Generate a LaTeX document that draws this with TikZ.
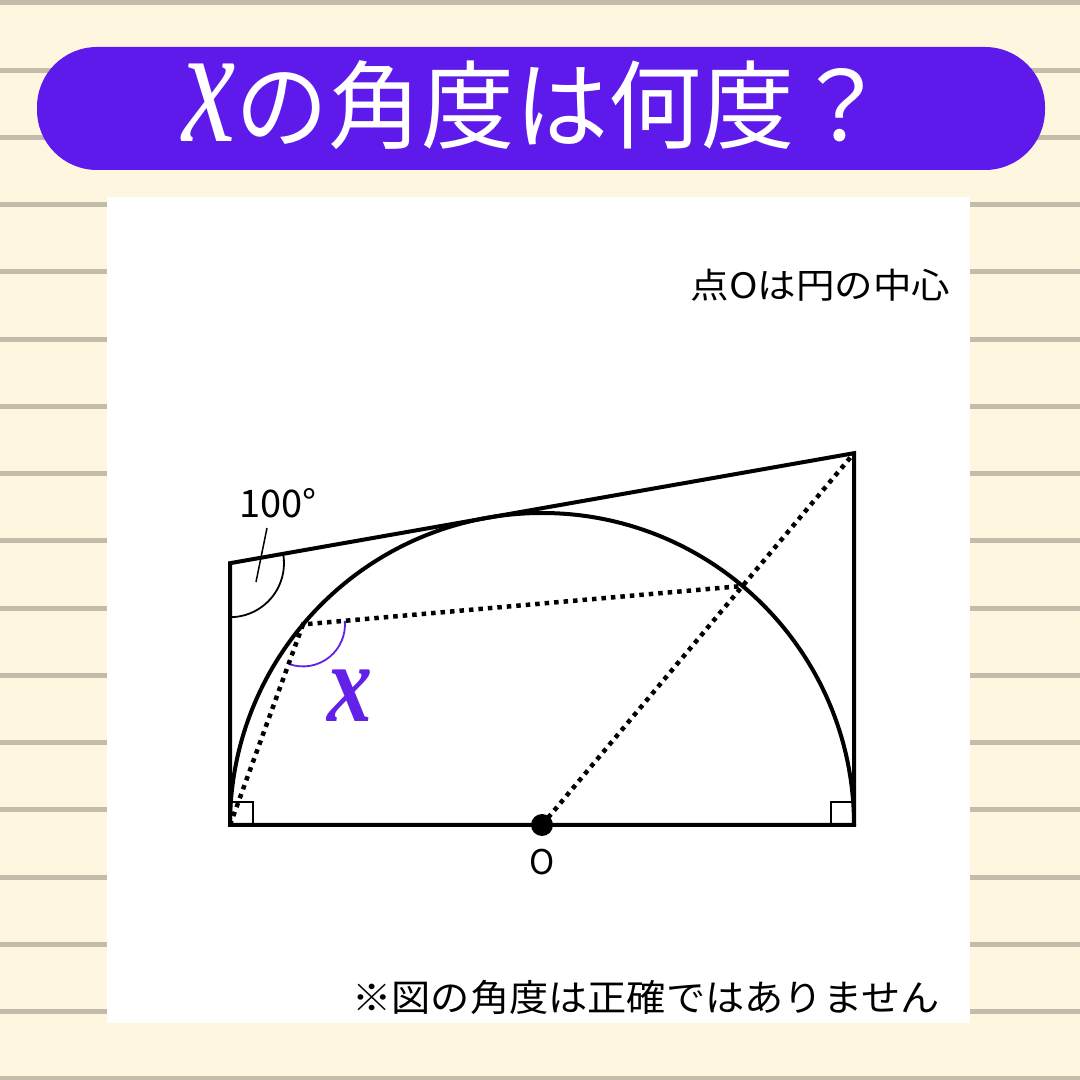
\documentclass[tikz,border=0pt]{standalone}
\usepackage{fontspec}
\setmainfont{Noto Sans CJK JP}
\newfontfamily\serifx{Liberation Serif}
\usetikzlibrary{positioning}
\definecolor{bgcream}{RGB}{255,246,224}
\definecolor{rulegray}{RGB}{196,188,171}
\definecolor{titlepurple}{RGB}{94,26,235}
\definecolor{xpurple}{RGB}{98,32,232}

\begin{document}
\begin{tikzpicture}[x=1pt, y=1pt,
    figline/.style={line width=4pt, line join=miter},
    dotline/.style={line width=4.5pt, dash pattern=on 4.5pt off 5pt},
    angarc/.style={line width=1.8pt},
    rtmark/.style={line width=2pt}]
			\useasboundingbox (0,0) rectangle (1080,1080);
			\fill[bgcream] (0,0) rectangle (1080,1080);
			\foreach \k in {0,...,16}
				\draw[rulegray, line width=5pt] (0,{1077-67.25*\k}) -- (1080,{1077-67.25*\k});
			\fill[titlepurple, rounded corners=60pt] (37,910) rectangle (1045,1033);
			\node[text=white, inner sep=0pt] (title) at (535,975) {\fontsize{96}{100}\selectfont\scalebox{0.97}[1]{{\serifx\itshape\fontsize{130}{130}\selectfont\scalebox{0.95}[1.3]{x}}の角度は何度？}};
			\fill[white] (107,57) rectangle (970,883);
			\coordinate (O) at (542,255);
			\coordinate (A) at (230,255);
			\coordinate (C) at (854,255);
			\coordinate (D) at (230,516.8);
			\coordinate (B) at (854,626.8);
			\coordinate (P) at ([shift={(140:312)}]O);
			\coordinate (Q) at ([shift={(50:312)}]O);
			\draw[rtmark] (A) rectangle ++(23,23);
			\draw[rtmark] (C) rectangle ++(-23,23);
			\draw[angarc] ([shift={(-90:54)}]D) arc[start angle=-90, end angle=10, radius=54];
			\draw[angarc, color=xpurple] ([shift={(-110:42)}]P) arc[start angle=-110, end angle=5, radius=42];
			\draw[figline] (C) arc[start angle=0, end angle=180, radius=312];
			\draw[figline] (A) -- (D) -- (B) -- (C) -- cycle;
			\draw[dotline] (A) -- (P) -- (Q);
			\draw[dotline] (O) -- (B);
			\fill (O) circle[radius=11];
			\node (olabel) at (542,218) {\fontsize{34}{40}\selectfont O};
			\node (deg) at (278,577) {\fontsize{38}{40}\selectfont 100°};
			\coordinate (degtip) at (256,498);
			\draw[line width=1.5pt] (267,552) -- (degtip);
			\node[color=xpurple] (xlabel) at (350,384) {\serifx\bfseries\itshape\fontsize{90}{90}\selectfont\scalebox{1}[1.25]{x}};
			\node[anchor=east] (note) at (954,795) {\fontsize{35}{40}\selectfont\scalebox{1.1}[1]{点Oは円の中心}};
			\node (caution) at (646,83) {\fontsize{37}{40}\selectfont\scalebox{1.06}[1]{※図の角度は正確ではありません}};
\end{tikzpicture}
\end{document}
